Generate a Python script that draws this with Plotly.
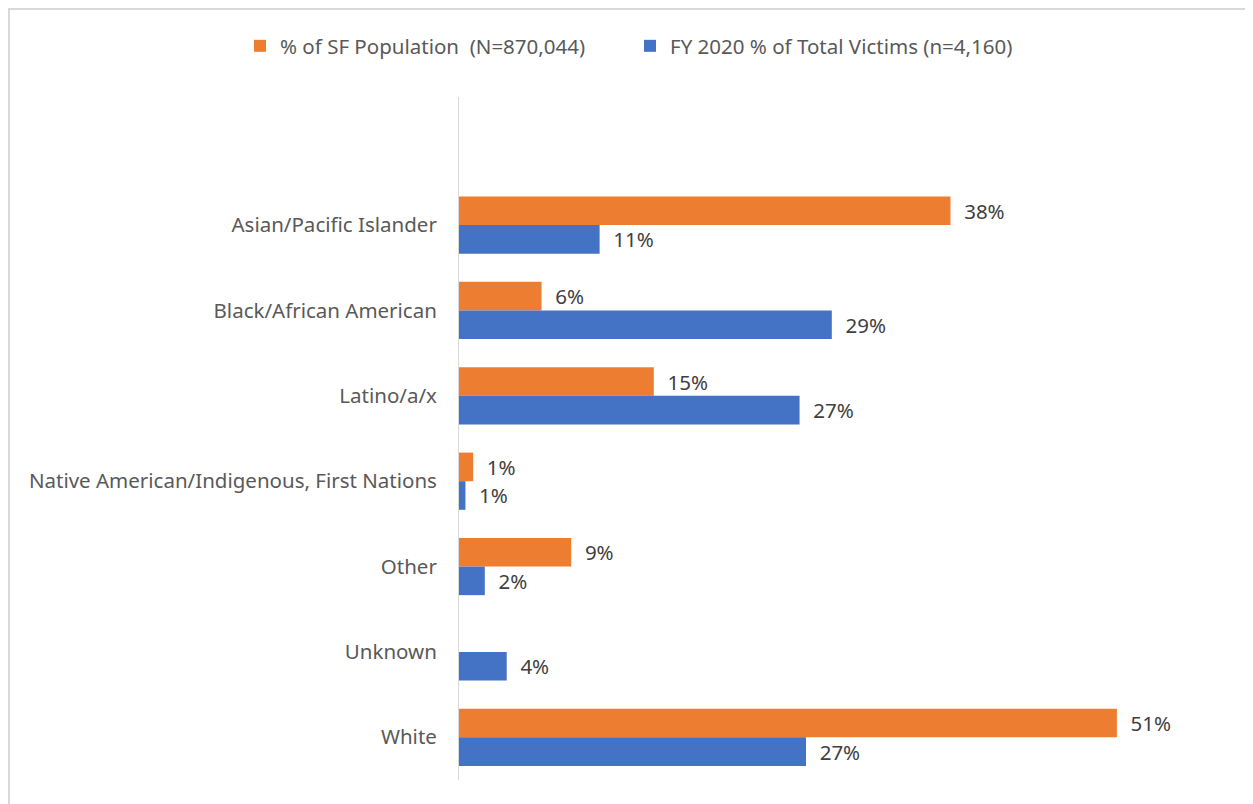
import plotly.graph_objects as go

categories = ["Asian/Pacific Islander", "Black/African American", "Latino/a/x",
              "Native American/Indigenous, First Nations", "Other", "Unknown", "White"]
sf_population = [38.1, 6.4, 15.1, 1.1, 8.7, None, 51.0]
sf_labels = ["38%", "6%", "15%", "1%", "9%", "", "51%"]
victims = [10.9, 28.9, 26.4, 0.5, 2.0, 3.7, 26.9]
victim_labels = ["11%", "29%", "27%", "1%", "2%", "4%", "27%"]
series_names = ["% of SF Population  (N=870,044)", "FY 2020 % of Total Victims (n=4,160)"]

FONT = "Noto Sans"
FS = 20.5
fig = go.Figure()
fig.add_trace(go.Bar(
    y=categories, x=sf_population, orientation="h", name=series_names[0],
    marker=dict(color="#ED7D31", line=dict(width=0)),
    text=sf_labels, texttemplate="  %{text}", textposition="outside",
    textfont=dict(color="#404040", size=FS, family=FONT), cliponaxis=False,
))
fig.add_trace(go.Bar(
    y=categories, x=victims, orientation="h", name=series_names[1],
    marker=dict(color="#4472C4", line=dict(width=0)),
    text=victim_labels, texttemplate="  %{text}", textposition="outside",
    textfont=dict(color="#404040", size=FS, family=FONT), cliponaxis=False,
))

OFF = 8  # page body margin
W, H = 1253 - OFF, 804 - OFF
# target positions in window pixels
AX_L, AX_T, AX_R, AX_B = 459, 97, 1233, 780
L, T = AX_L - OFF, AX_T - OFF
R = W - (AX_R - OFF)
B = H - (AX_B - OFF)
pw, ph = W - L - R, H - T - B

def px_x(p):
    return (p - OFF - L) / pw

def px_y(p):
    return (AX_B - p) / ph

fig.update_layout(
    width=W, height=H,
    margin=dict(l=L, r=R, t=T, b=B, pad=0),
    paper_bgcolor="white", plot_bgcolor="white",
    barmode="group", bargap=0.33, bargroupgap=0,
    font=dict(family=FONT, size=FS, color="#595959"),
    showlegend=True,
    legend=dict(orientation="h", x=px_x(240), xanchor="left", y=px_y(46), yanchor="middle",
                font=dict(size=FS, color="#595959", family=FONT), itemwidth=30,
                entrywidth=345, entrywidthmode="pixels",
                traceorder="normal"),
    xaxis=dict(range=[0, 60], visible=False, showgrid=False, zeroline=False),
    yaxis=dict(type="category", range=[6.5, -1.5], showgrid=False, zeroline=False,
               showline=True, linecolor="#D9D9D9", linewidth=1, ticks="",
               ticklabelstandoff=17, tickfont=dict(size=FS, color="#595959", family=FONT)),
    shapes=[dict(type="rect", xref="paper", yref="paper",
                 x0=px_x(9), x1=px_x(1262), y0=px_y(812), y1=px_y(9),
                 line=dict(color="#D9D9D9", width=2), fillcolor="rgba(0,0,0,0)", layer="below")],
)
fig.write_html("out.html")
